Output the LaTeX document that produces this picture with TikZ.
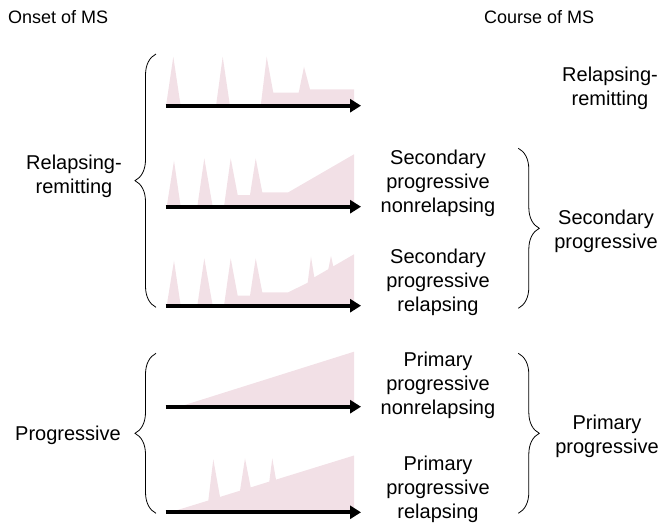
\documentclass[tikz,border=0pt]{standalone}
\usepackage{fontspec}
\setmainfont{Liberation Sans}
\usetikzlibrary{arrows.meta,decorations.pathreplacing}

\definecolor{attackpink}{RGB}{242,224,230}

\begin{document}
\begin{tikzpicture}[
  x=1pt,y=-1pt,
  label/.style={font=\fontsize{20}{24}\selectfont,align=center,inner sep=0pt},
  heading/.style={font=\fontsize{18}{22}\selectfont,anchor=west,inner sep=0pt},
  timeline/.style={line width=4pt,-{Triangle[length=11pt,width=13pt]}},
  activity/.style={fill=attackpink,draw=none},
  bracket/.style={thick,decorate,decoration={brace,amplitude=21pt}},
]
\useasboundingbox (0,0) rectangle (665,523);

% Headings
\node[heading] (onset) at (8,17) {Onset of MS};
\node[heading] (course) at (484,17) {Course of MS};

% Disease activity profiles
\fill[activity] (166,106) -- (173.3,56.7) -- (180.7,106) -- (216,106) -- (222.7,56.7)
  -- (230,106) -- (260.7,106) -- (266.7,56.7) -- (273.3,92.7) -- (298.7,92.7)
  -- (304,66.7) -- (310,89.3) -- (354,89.3) -- (354,106) -- cycle;
\fill[activity] (166.7,206.7) -- (174,160.7) -- (180.7,206.7) -- (197.3,206.7)
  -- (204.3,158.3) -- (212.7,206.7) -- (224,206.7) -- (230.7,158.3) -- (237.7,195)
  -- (250,195) -- (255.7,158.3) -- (262.3,192.3) -- (288.3,192.3) -- (354,154.3)
  -- (354,206.7) -- cycle;
\fill[activity] (166.7,305.7) -- (174,260.7) -- (180.7,305.7) -- (197.3,305.7)
  -- (204.3,258.3) -- (212.7,305.7) -- (224,305.7) -- (230.7,258.3) -- (237.7,295.7)
  -- (250,295.7) -- (255.7,258.3) -- (262.3,292.3) -- (288.3,292.3) -- (307.7,282.7)
  -- (311,256.7) -- (314.3,277.3) -- (328.3,269.2) -- (331,256) -- (333.3,266.3)
  -- (354,254.3) -- (354,305.7) -- cycle;
\fill[activity] (179.3,406.7) -- (354,351.7) -- (354,406.7) -- cycle;
\fill[activity] (170,512.3) -- (208.3,500.5) -- (213.3,459.3) -- (220,496.9)
  -- (240,490.7) -- (245,458.3) -- (250.7,487.4) -- (269.3,481.6) -- (272.3,458.3)
  -- (276,479.6) -- (354,455.5) -- (354,512.3) -- cycle;

% Time axes
\foreach \row/\y in {rr/105.7,spnr/206.7,spr/305.7,ppnr/406.7,ppr/512.3} {
  \coordinate (\row-start) at (165.7,\y);
  \coordinate (\row-end) at (361,\y);
  \draw[timeline] (\row-start) -- (\row-end);
}

% Onset braces
\coordinate (rrTop) at (156,54);
\coordinate (rrBot) at (156,307.3);
\coordinate (progTop) at (156,353.3);
\coordinate (progBot) at (156,513.3);
\draw[bracket] (rrBot) -- (rrTop);
\draw[bracket] (progBot) -- (progTop);
\node[label,anchor=east] (rrOnset) at (122,176) {Relapsing-\\remitting};
\node[label,anchor=east] (progOnset) at (121,435) {Progressive};

% Course labels
\node[label] (rrCourse) at (610,88) {Relapsing-\\remitting};
\node[label] (spnrLabel) at (438,183) {Secondary\\progressive\\nonrelapsing};
\node[label] (sprLabel) at (438,282.5) {Secondary\\progressive\\relapsing};
\node[label] (ppnrLabel) at (438,385) {Primary\\progressive\\nonrelapsing};
\node[label] (pprLabel) at (438,489.8) {Primary\\progressive\\relapsing};

% Course braces
\coordinate (spTop) at (518.3,148.3);
\coordinate (spBot) at (518.3,308.3);
\coordinate (ppTop) at (518.3,353.3);
\coordinate (ppBot) at (518.3,513.3);
\draw[bracket] (spTop) -- (spBot);
\draw[bracket] (ppTop) -- (ppBot);
\node[label] (spCourse) at (606,231) {Secondary\\progressive};
\node[label] (ppCourse) at (607,436) {Primary\\progressive};

\end{tikzpicture}
\end{document}
